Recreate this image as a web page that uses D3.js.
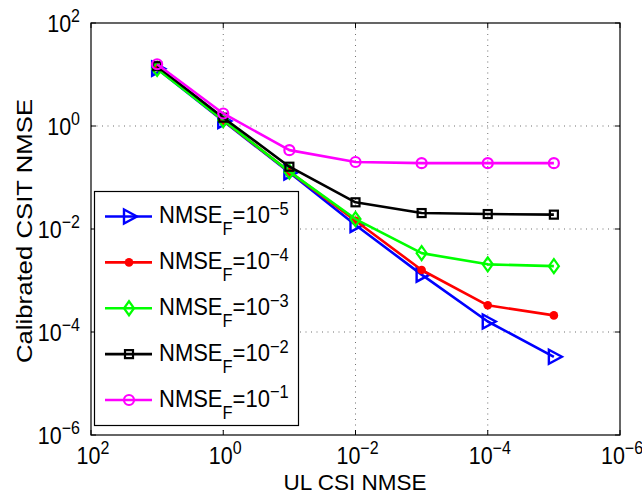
<!DOCTYPE html>
<html><head><meta charset="utf-8">
<script src="https://cdn.jsdelivr.net/npm/d3@7"></script>
<style>body{margin:0;background:#fff}svg{display:block}text{font-family:"Liberation Sans",Arial,Helvetica,sans-serif;fill:#000}</style>
</head><body><svg id="c" width="642" height="495"></svg>
<script>
const xValues = [1e1, 1e0, 1e-1, 1e-2, 1e-3, 1e-4, 1e-5];
const nmseF5 = [13.0, 1.25, 0.125, 0.012, 0.0013, 1.6e-4, 3.3e-5];
const nmseF4 = [14.0, 1.28, 0.13, 0.0145, 0.0016, 3.3e-4, 2.1e-4];
const nmseF3 = [12.8, 1.3, 0.13, 0.0156, 0.0034, 0.00206, 0.0019];
const nmseF2 = [14.5, 1.45, 0.162, 0.033, 0.0204, 0.0195, 0.019];
const nmseF1 = [15.8, 1.75, 0.34, 0.2, 0.19, 0.19, 0.19];
const seriesExp = ["−5", "−4", "−3", "−2", "−1"];
const xTicks = [1e2, 1e0, 1e-2, 1e-4, 1e-6];
const xTickExp = ["2", "0", "−2", "−4", "−6"];
const yTicks = [1e2, 1e0, 1e-2, 1e-4, 1e-6];
const yTickExp = ["2", "0", "−2", "−4", "−6"];

const series = [
  {vals: nmseF5, color: "#0000ff", marker: "tri"},
  {vals: nmseF4, color: "#ff0000", marker: "dot"},
  {vals: nmseF3, color: "#00ff00", marker: "diamond"},
  {vals: nmseF2, color: "#000000", marker: "square"},
  {vals: nmseF1, color: "#ff00ff", marker: "circle"}
];

const L = 91, R = 620, T = 23, B = 435;
const SY = 1.12; // vertical stretch of the reference text
const svg = d3.select("#c");
const x = d3.scaleLog().domain([1e2, 1e-6]).range([L, R]);
const y = d3.scaleLog().domain([1e-6, 1e2]).range([B, T]);

// grid
const g = svg.append("g");
xTicks.slice(1, -1).forEach(v => {
  g.append("line").attr("x1", x(v)).attr("x2", x(v)).attr("y1", T).attr("y2", B)
    .attr("stroke", "#000").attr("stroke-width", 0.8).attr("stroke-dasharray", "1,4.5").attr("opacity", 0.7);
});
yTicks.slice(1, -1).forEach(v => {
  g.append("line").attr("x1", L).attr("x2", R).attr("y1", y(v)).attr("y2", y(v))
    .attr("stroke", "#000").attr("stroke-width", 0.8).attr("stroke-dasharray", "1,4.5").attr("opacity", 0.7);
});

// axes box + ticks
svg.append("rect").attr("x", L).attr("y", T).attr("width", R - L).attr("height", B - T)
  .attr("fill", "none").attr("stroke", "#000").attr("stroke-width", 1.2);
xTicks.forEach(v => {
  svg.append("line").attr("x1", x(v)).attr("x2", x(v)).attr("y1", B).attr("y2", B - 5).attr("stroke", "#000");
  svg.append("line").attr("x1", x(v)).attr("x2", x(v)).attr("y1", T).attr("y2", T + 5).attr("stroke", "#000");
});
yTicks.forEach(v => {
  svg.append("line").attr("x1", L).attr("x2", L + 5).attr("y1", y(v)).attr("y2", y(v)).attr("stroke", "#000");
  svg.append("line").attr("x1", R).attr("x2", R - 5).attr("y1", y(v)).attr("y2", y(v)).attr("stroke", "#000");
});

function powLabel(px, py, anchor, exp) {
  const t = svg.append("text").attr("transform", `translate(${px},${py}) scale(1,${SY})`)
    .attr("text-anchor", anchor).attr("font-size", 21.5);
  t.append("tspan").text("10");
  t.append("tspan").attr("dy", -9).attr("font-size", 16).text(exp);
}
xTicks.forEach((v, i) => powLabel(x(v) + 2, 464, "middle", xTickExp[i]));
yTicks.forEach((v, i) => powLabel(80, y(v) + 9, "end", yTickExp[i]));

// axis labels
svg.append("text").attr("x", 355).attr("y", 490).attr("text-anchor", "middle")
  .attr("font-size", 22.5).text("UL CSI NMSE");
svg.append("text").attr("transform", `translate(32,231) rotate(-90) scale(${SY},1)`).attr("text-anchor", "middle")
  .attr("font-size", 23).text("Calibrated CSIT NMSE");

function drawMarker(sel, type, color, cx, cy) {
  if (type === "tri") {
    sel.append("path").attr("d", `M${cx-5},${cy-7}L${cx+8},${cy}L${cx-5},${cy+7}Z`)
      .attr("fill", "none").attr("stroke", color).attr("stroke-width", 2.4);
  } else if (type === "dot") {
    sel.append("circle").attr("cx", cx).attr("cy", cy).attr("r", 4.3).attr("fill", color);
  } else if (type === "diamond") {
    sel.append("path").attr("d", `M${cx},${cy-7}L${cx+5},${cy}L${cx},${cy+7}L${cx-5},${cy}Z`)
      .attr("fill", "none").attr("stroke", color).attr("stroke-width", 2.2);
  } else if (type === "square") {
    sel.append("rect").attr("x", cx - 4).attr("y", cy - 4).attr("width", 8).attr("height", 8)
      .attr("fill", "none").attr("stroke", color).attr("stroke-width", 2.2);
  } else if (type === "circle") {
    sel.append("circle").attr("cx", cx).attr("cy", cy).attr("r", 5).attr("fill", "none").attr("stroke", color).attr("stroke-width", 2.2);
  }
}

const line = d3.line().x(d => x(d[0])).y(d => y(d[1]));
series.forEach(s => {
  const pts = xValues.map((xv, i) => [xv, s.vals[i]]);
  const sg = svg.append("g");
  sg.append("path").attr("d", line(pts)).attr("fill", "none").attr("stroke", s.color).attr("stroke-width", 2.6).attr("stroke-linejoin", "round");
  pts.forEach(p => drawMarker(sg, s.marker, s.color, x(p[0]), y(p[1])));
});

// legend
const lg = svg.append("g");
lg.append("rect").attr("x", 94.5).attr("y", 191.5).attr("width", 204).attr("height", 234)
  .attr("fill", "#fff").attr("stroke", "#000").attr("stroke-width", 1.2);
const rowY = d3.scaleLinear().domain([0, 4]).range([216.5, 400]);
series.forEach((s, i) => {
  const cy = rowY(i);
  lg.append("line").attr("x1", 105).attr("x2", 152).attr("y1", cy).attr("y2", cy).attr("stroke", s.color).attr("stroke-width", 2.6);
  drawMarker(lg, s.marker, s.color, 129, cy);
  const t = lg.append("text").attr("transform", `translate(159,${cy + 6.8}) scale(1,${SY})`).attr("font-size", 22);
  t.append("tspan").text("NMSE");
  t.append("tspan").attr("dy", 10.5).attr("font-size", 16.5).text("F");
  t.append("tspan").attr("dy", -10.5).text("=10");
  t.append("tspan").attr("dy", -7.5).attr("font-size", 16.5).text(seriesExp[i]);
});
</script></body></html>
